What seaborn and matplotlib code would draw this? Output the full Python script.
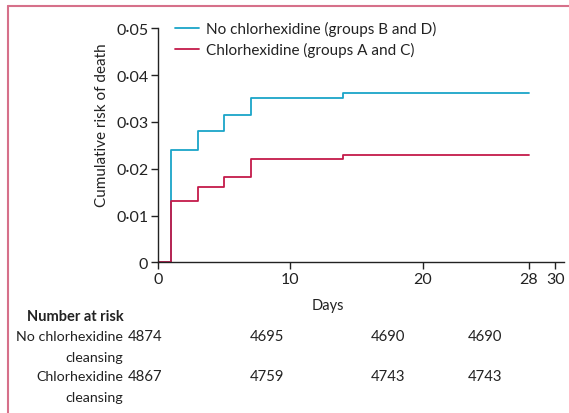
import pandas as pd
import matplotlib.pyplot as plt
import seaborn as sns
from matplotlib.lines import Line2D
from matplotlib.ticker import FuncFormatter

# cumulative risk of death by day (step curve)
days = [0, 1, 3, 5, 7, 14, 28]
risk_no_chx = [0, 0.0240, 0.0280, 0.0315, 0.0352, 0.0361, 0.0361]
risk_chx = [0, 0.0132, 0.0161, 0.0182, 0.0221, 0.0230, 0.0230]

labels = ['No chlorhexidine (groups B and D)', 'Chlorhexidine (groups A and C)']
colors = ['#1aa5c8', '#c41a4a']

# number at risk table
risk_rows = [['No chlorhexidine', 'cleansing'], ['Chlorhexidine', 'cleansing']]
at_risk_no_chx = [4874, 4695, 4690, 4690]
at_risk_chx = [4867, 4759, 4743, 4743]
at_risk_pos = [-1.0, 8.2, 17.4, 24.7]

df = pd.concat([
    pd.DataFrame({'day': days, 'risk': risk_no_chx, 'group': labels[0]}),
    pd.DataFrame({'day': days, 'risk': risk_chx, 'group': labels[1]}),
])

sns.set_style('ticks')
plt.rcParams['font.family'] = ['Lato', 'DejaVu Sans']
ink = '#222222'

fig = plt.figure(figsize=(5.69, 4.14), dpi=100)
ax = fig.add_axes([0.2777, 0.364, 0.7133, 0.565])

sns.lineplot(data=df, x='day', y='risk', hue='group', palette=colors,
             drawstyle='steps-post', linewidth=1.3, ax=ax, legend=False)

ax.set_xlim(0, 30.66)
ax.set_ylim(0, 0.05)
ax.set_xticks([0, 10, 20, 28, 30])
ax.set_yticks([0, 0.01, 0.02, 0.03, 0.04, 0.05])
ax.yaxis.set_major_formatter(FuncFormatter(
    lambda v, p: '0' if v == 0 else f'{v:.2f}'.replace('.', '·')))
ax.tick_params(labelsize=11.5, length=5, width=1, colors=ink, pad=2)
for s in ['top', 'right']:
    ax.spines[s].set_visible(False)
for s in ['left', 'bottom']:
    ax.spines[s].set_linewidth(1)
    ax.spines[s].set_color(ink)

ax.set_xlabel('')
ax.set_ylabel('Cumulative risk of death', fontsize=11, color=ink)
ax.yaxis.set_label_coords(-0.12, 0.59)

handles = [Line2D([], [], color=c, lw=1.3) for c in colors]
ax.legend(handles, labels, loc='upper left', bbox_to_anchor=(0.008, 1.09),
          frameon=False, fontsize=11, handlelength=1.6, handletextpad=0.45,
          labelspacing=0.38, labelcolor=ink)

# x label and number at risk, in figure pixels
def fig_text(x, y, s, size=10.7, **kw):
    fig.text(x / 569, 1 - y / 414, s, fontsize=size, color=ink,
             va='center', **kw)

fig_text(328, 306, 'Days', size=10.5, ha='center')
fig_text(124, 317, 'Number at risk', size=10.5, ha='right', fontweight='bold')
for i, (name, vals) in enumerate(zip(risk_rows, [at_risk_no_chx, at_risk_chx])):
    yc = 337 + i * 40
    fig_text(123, yc, name[0], size=10.3, ha='right')
    fig_text(123, yc + 21, name[1], size=10.3, ha='right')
    for pos, v in zip(at_risk_pos, vals):
        xp = ax.transData.transform((pos, 0))[0]
        fig_text(xp, yc, str(v), ha='center')

# pink frame lines at top and left
frame = '#d6708a'
fig.add_artist(Line2D([8 / 569, 1], [1 - 7 / 414, 1 - 7 / 414], color=frame, lw=1.5))
fig.add_artist(Line2D([8 / 569, 8 / 569], [0, 1 - 7 / 414], color=frame, lw=1.5))

fig.savefig('out.png', dpi=100)
